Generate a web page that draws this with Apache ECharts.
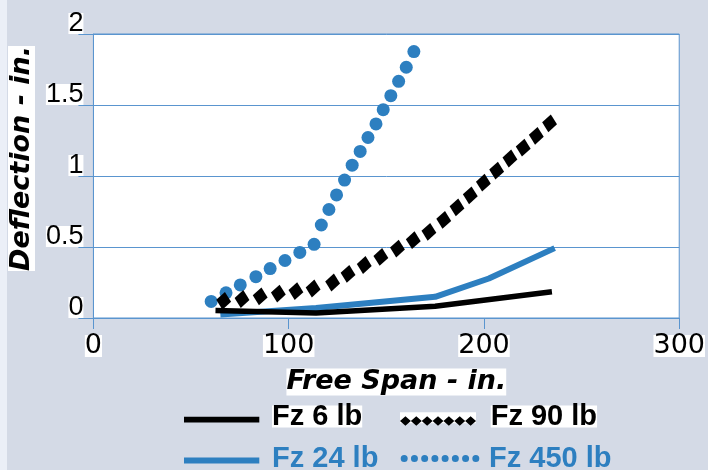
<!DOCTYPE html>
<html>
<head>
<meta charset="utf-8">
<script src="https://cdn.jsdelivr.net/npm/echarts@6/dist/echarts.min.js"></script>
<style>
  html, body { margin: 0; padding: 0; background: #d4dae6; }
  #chart { width: 708px; height: 470px; }
</style>
</head>
<body>
<div id="chart"></div>
<script>
// ---- data ----
const seriesNames = ['Fz 6 lb', 'Fz 90 lb', 'Fz 24 lb', 'Fz 450 lb'];

const fz6X = [62.5, 114, 175, 234.8];
const fz6Y = [0.052, 0.036, 0.083, 0.185];

const fz24X = [65, 114, 175, 202.5, 236.2];
const fz24Y = [0.024, 0.07, 0.149, 0.278, 0.492];

const fz90X = [66.7, 76.1, 85.4, 94.7, 103.7, 112.5, 122.5, 130.4, 138.7, 147.2, 155.7,
               163.8, 171.8, 179.4, 186.2, 193.0, 199.7, 206.5, 213.3, 220.1, 226.8, 233.6];
const fz90Y = [0.121, 0.134, 0.152, 0.172, 0.189, 0.208, 0.25, 0.311, 0.373, 0.430, 0.489,
               0.548, 0.607, 0.691, 0.779, 0.864, 0.953, 1.038, 1.123, 1.2, 1.283, 1.371];

const fz450X = [60.3, 67.9, 75.2, 83.2, 90.5, 98.1, 105.7, 113.0, 116.7, 120.6, 124.5,
                128.6, 132.5, 136.6, 140.6, 144.7, 148.4, 152.3, 156.3, 160.2, 164.1];
const fz450Y = [0.117, 0.177, 0.233, 0.291, 0.348, 0.405, 0.462, 0.519, 0.655, 0.764, 0.867,
                0.971, 1.076, 1.173, 1.271, 1.367, 1.467, 1.566, 1.667, 1.766, 1.876];

const xTicks = { min: 0, max: 300, interval: 100 };
const yTicks = { min: 0, max: 2, interval: 0.5 };
const xTitle = 'Free Span - in.';
const yTitle = 'Deflection - in.';

// ---- styling ----
const GRID = '#5a95cf';
const BLUE = '#2d7fc0';
const zip = (xs, ys) => xs.map((x, i) => [x, ys[i]]);

function lineIcon(w, h, y0, y1, len) {
  return 'path://M0,0 M' + w + ',' + h + ' M0,' + y0 + ' L' + len + ',' + y0 +
         ' L' + len + ',' + y1 + ' L0,' + y1 + ' Z';
}
function diamondIcon(w, h, n, step, cy, hw, hh) {
  let p = 'path://M0,0 M' + w + ',' + h;
  for (let i = 0; i < n; i++) {
    const cx = hw + step * i;
    p += ' M' + (cx - hw) + ',' + cy + ' L' + cx + ',' + (cy - hh) + ' L' + (cx + hw) + ',' + cy +
         ' L' + cx + ',' + (cy + hh) + ' Z';
  }
  return p;
}
function dotIcon(w, h, n, x0, step, cy, r) {
  let p = 'path://M0,0 M' + w + ',' + h;
  for (let i = 0; i < n; i++) {
    const cx = x0 + step * i;
    p += ' M' + (cx - r) + ',' + cy + ' A' + r + ',' + r + ' 0 1 1 ' + (cx + r) + ',' + cy +
         ' A' + r + ',' + r + ' 0 1 1 ' + (cx - r) + ',' + cy + ' Z';
  }
  return p;
}

const legendText = (color, bg) => ({
  fontFamily: 'Liberation Sans', fontWeight: 'bold', fontSize: 29,
  lineHeight: 22, color: color, backgroundColor: bg, padding: 0
});
function legendOf(name, left, top, w, icon, textStyle) {
  return {
    left: left, top: top, padding: 0, selectedMode: false,
    itemWidth: w, itemHeight: 22, symbolKeepAspect: false,
    itemStyle: { borderWidth: 0 },
    data: [{ name: name, icon: icon, textStyle: textStyle }]
  };
}

const titleRich = (lh) => ({
  t: {
    fontFamily: 'DejaVu Sans', fontWeight: 'bold', fontStyle: 'italic',
    fontSize: 27, lineHeight: lh, color: '#000', backgroundColor: '#fff'
  }
});

const chart = echarts.init(document.getElementById('chart'), null, { renderer: 'canvas' });
chart.setOption({
  backgroundColor: '#d4dae6',
  animation: false,
  graphic: [
    { type: 'rect', shape: { x: 0, y: 0, width: 7, height: 470 }, style: { fill: '#ebeff7' }, silent: true, z: 0 },
    { type: 'rect', shape: { x: 400, y: 412.3, width: 76, height: 11 }, style: { fill: '#ffffff' }, silent: true, z: 1 }
  ],
  grid: {
    left: 92, right: 26, top: 34, bottom: 152,
    show: true, backgroundColor: '#ffffff', borderColor: GRID, borderWidth: 1
  },
  xAxis: {
    type: 'value', min: xTicks.min, max: xTicks.max, interval: xTicks.interval,
    axisLine: { show: true, lineStyle: { color: GRID, width: 1 } },
    axisTick: { show: true, length: 11, lineStyle: { color: GRID, width: 1 } },
    splitLine: { show: false },
    axisLabel: {
      fontFamily: 'DejaVu Sans', fontSize: 27, color: '#000',
      backgroundColor: '#fff', lineHeight: 22, margin: 17
    },
    name: '{t|' + xTitle + '}', nameLocation: 'middle', nameGap: 50,
    nameTextStyle: { padding: [0, 0, 0, 20], rich: titleRich(28) }
  },
  yAxis: {
    type: 'value', min: yTicks.min, max: yTicks.max, interval: yTicks.interval,
    axisLine: { show: true, lineStyle: { color: GRID, width: 1 } },
    axisTick: { show: true, length: 15, lineStyle: { color: GRID, width: 1 } },
    splitLine: { show: true, lineStyle: { color: GRID, width: 1 } },
    axisLabel: {
      fontFamily: 'Liberation Sans', fontSize: 27, color: '#000',
      backgroundColor: '#fff', lineHeight: 21, margin: 10, verticalAlign: 'bottom'
    },
    name: '{t|' + yTitle + '}', nameLocation: 'middle', nameGap: 56, nameRotate: 90,
    nameTextStyle: { padding: [0, 0, 0, 35], rich: titleRich(22) }
  },
  legend: [
    legendOf(seriesNames[0], 184, 402, 83, lineIcon(83, 22, 11.3, 17, 75.3), legendText('#000', '#fff')),
    legendOf(seriesNames[1], 400, 402, 85.7, diamondIcon(85.7, 22, 7, 10.86, 15.5, 5.43, 4.8), legendText('#000', '#fff')),
    legendOf(seriesNames[2], 184, 444, 83, lineIcon(83, 22, 10, 16, 75.3), legendText(BLUE, 'transparent')),
    legendOf(seriesNames[3], 400, 444, 84, dotIcon(84, 22, 8, 4.2, 10.23, 11, 3.5), legendText(BLUE, 'transparent'))
  ],
  series: [
    {
      name: seriesNames[2], type: 'line', data: zip(fz24X, fz24Y), symbol: 'none', z: 2,
      lineStyle: { color: BLUE, width: 6, join: 'round' }, itemStyle: { color: BLUE }
    },
    {
      name: seriesNames[0], type: 'line', data: zip(fz6X, fz6Y), symbol: 'none', z: 3,
      lineStyle: { color: '#000', width: 5.5, join: 'round' }, itemStyle: { color: '#000' }
    },
    {
      name: seriesNames[3], type: 'scatter', data: zip(fz450X, fz450Y), symbol: 'circle',
      symbolSize: 13, z: 4, itemStyle: { color: BLUE, opacity: 1 }
    },
    {
      name: seriesNames[1], type: 'scatter', data: zip(fz90X, fz90Y), symbol: 'diamond',
      symbolSize: [15, 18], symbolRotate: -8, z: 5, itemStyle: { color: '#000', opacity: 1 }
    }
  ]
});
</script>
</body>
</html>
